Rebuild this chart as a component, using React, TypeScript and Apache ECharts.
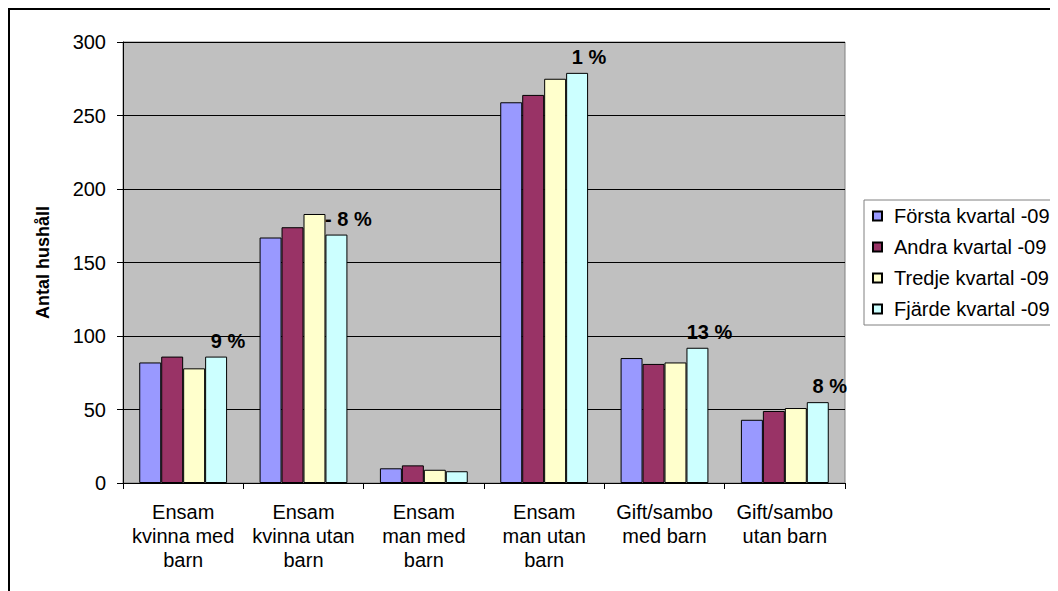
import React, { useEffect, useRef } from 'react';
import * as echarts from 'echarts';

const categories = [
  'Ensam\nkvinna med\nbarn',
  'Ensam\nkvinna utan\nbarn',
  'Ensam\nman med\nbarn',
  'Ensam\nman utan\nbarn',
  'Gift/sambo\nmed barn',
  'Gift/sambo\nutan barn',
];
const seriesNames = ['Första kvartal -09', 'Andra kvartal -09', 'Tredje kvartal -09', 'Fjärde kvartal -09'];
const forsta = [82, 167, 10, 259, 85, 43];
const andra = [86, 174, 12, 264, 81, 49];
const tredje = [78, 183, 9, 275, 82, 51];
const fjarde = [86, 169, 8, 279, 92, 55];
const pctLabels = ['9 %', '- 8 %', '', '1 %', '13 %', '8 %'];
const yMin = 0;
const yMax = 300;
const yInterval = 50;
const yAxisTitle = 'Antal hushåll';
const colors = ['#9999FF', '#993366', '#FFFFCC', '#CCFFFF'];

const FONT = '"Liberation Sans", Arial, sans-serif';

export default function App() {
  const ref = useRef<HTMLDivElement>(null);
  useEffect(() => {
    document.documentElement.style.overflow = 'hidden';
    document.body.style.overflow = 'hidden';
    if (!ref.current) return;
    const chart = echarts.init(ref.current, undefined, { renderer: 'svg' });
    const values = [forsta, andra, tredje, fjarde];
    const series = seriesNames.map((name, si) => ({
      name,
      type: 'bar',
      barGap: '0%',
      barCategoryGap: '27%',
      itemStyle: { color: colors[si], borderColor: '#000', borderWidth: 1 },
      label: {
        show: false,
        position: 'top',
        distance: 4,
        offset: [12, -2],
        fontSize: 20,
        fontWeight: 'bold',
        color: '#000',
        fontFamily: FONT,
      },
      data:
        si === 3
          ? values[si].map((v, i) => ({
              value: v,
              label: { show: !!pctLabels[i], formatter: pctLabels[i] },
            }))
          : values[si],
    }));
    chart.setOption({
      animation: false,
      textStyle: { fontFamily: FONT, color: '#000' },
      grid: {
        left: 113,
        top: 32,
        width: 722,
        height: 441,
        show: true,
        backgroundColor: '#C0C0C0',
        borderColor: '#808080',
        borderWidth: 1,
      },
      legend: {
        orient: 'vertical',
        left: 854,
        top: 190,
        itemWidth: 9,
        itemHeight: 9,
        itemGap: 11,
        padding: [6, 12, 6, 8],
        borderColor: '#808080',
        borderWidth: 1,
        backgroundColor: '#fff',
        icon: 'rect',
        textStyle: { fontSize: 20, color: '#000', fontFamily: FONT, padding: [0, 0, 0, 7] },
        data: seriesNames,
      },
      xAxis: {
        type: 'category',
        data: categories,
        axisLine: { show: true, lineStyle: { color: '#000', width: 1 } },
        axisTick: { show: true, length: 6, lineStyle: { color: '#000' } },
        axisLabel: {
          interval: 0,
          fontSize: 20,
          lineHeight: 24,
          margin: 17,
          color: '#000',
          fontFamily: FONT,
        },
        splitLine: { show: false },
      },
      yAxis: {
        type: 'value',
        min: yMin,
        max: yMax,
        interval: yInterval,
        name: yAxisTitle,
        nameLocation: 'middle',
        nameGap: 71,
        nameTextStyle: { fontSize: 18, fontWeight: 'bold', color: '#000', fontFamily: FONT },
        axisLine: { show: true, lineStyle: { color: '#000', width: 1 } },
        axisTick: { show: true, length: 6, lineStyle: { color: '#000' } },
        axisLabel: { fontSize: 20, margin: 17, color: '#000', fontFamily: FONT },
        splitLine: { show: true, lineStyle: { color: '#000', width: 1 } },
      },
      series,
    });
    return () => chart.dispose();
  }, []);
  return (
    <div
      style={{
        width: 1050,
        height: 600,
        borderTop: '2px solid #000',
        borderLeft: '2px solid #000',
        boxSizing: 'border-box',
        overflow: 'hidden',
        background: '#fff',
      }}
    >
      <div ref={ref} style={{ width: 1048, height: 598 }} />
    </div>
  );
}
